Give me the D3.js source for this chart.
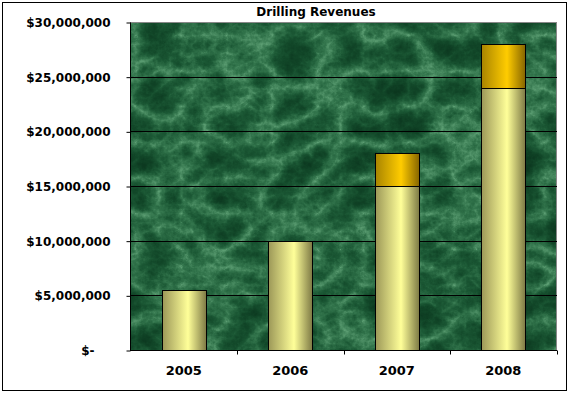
<!DOCTYPE html>
<html>
<head>
<meta charset="utf-8">
<script src="https://cdn.jsdelivr.net/npm/d3@7"></script>
<style>
  body { margin: 0; background: #fff; }
  svg text { font-family: Tahoma, "DejaVu Sans", sans-serif; font-weight: bold; fill: #000; }
</style>
</head>
<body>
<div id="chart"></div>
<script>
// Chart data
const years = ["2005", "2006", "2007", "2008"];
const baseRevenue = [5500000, 10000000, 15000000, 24000000];
const extraRevenue = [0, 0, 3000000, 4000000];
const yTicks = [0, 5000000, 10000000, 15000000, 20000000, 25000000, 30000000];

const width = 572, height = 394;
const margin = { top: 22, right: 15, bottom: 44, left: 130 };

const svg = d3.select("#chart").append("svg")
    .attr("width", width)
    .attr("height", height);

// outer frame
svg.append("rect")
    .attr("x", 2.5).attr("y", 2.5)
    .attr("width", 564).attr("height", 388)
    .attr("fill", "#fff")
    .attr("stroke", "#000")
    .attr("stroke-width", 1);

const defs = svg.append("defs");

// green marble texture: veins + a little grain
const marble = defs.append("filter")
    .attr("id", "marble")
    .attr("color-interpolation-filters", "sRGB")
    .attr("x", 0).attr("y", 0).attr("width", 1).attr("height", 1);
const toGray = "1 0 0 0 0  1 0 0 0 0  1 0 0 0 0  0 0 0 0 1";
marble.append("feTurbulence")
    .attr("type", "turbulence")
    .attr("baseFrequency", "0.022 0.028")
    .attr("numOctaves", 6)
    .attr("seed", 11)
    .attr("result", "veinsRaw");
marble.append("feColorMatrix")
    .attr("in", "veinsRaw").attr("type", "matrix").attr("values", toGray)
    .attr("result", "veins");
marble.append("feTurbulence")
    .attr("type", "fractalNoise")
    .attr("baseFrequency", "0.3")
    .attr("numOctaves", 2)
    .attr("seed", 3)
    .attr("result", "grainRaw");
marble.append("feColorMatrix")
    .attr("in", "grainRaw").attr("type", "matrix").attr("values", toGray)
    .attr("result", "grain");
marble.append("feComposite")
    .attr("in", "veins").attr("in2", "grain")
    .attr("operator", "arithmetic")
    .attr("k1", 0).attr("k2", 1).attr("k3", 0.2).attr("k4", -0.1)
    .attr("result", "gray");
const ct = marble.append("feComponentTransfer").attr("in", "gray");
ct.append("feFuncR").attr("type", "table").attr("tableValues", "0.36 0.2 0.11 0.07 0.05 0.04");
ct.append("feFuncG").attr("type", "table").attr("tableValues", "0.62 0.46 0.35 0.28 0.23 0.2");
ct.append("feFuncB").attr("type", "table").attr("tableValues", "0.45 0.3 0.21 0.16 0.13 0.11");

function barGradient(id, edgeL, mid, edgeR) {
    const g = defs.append("linearGradient").attr("id", id)
        .attr("x1", "0%").attr("x2", "100%").attr("y1", "0%").attr("y2", "0%");
    g.append("stop").attr("offset", "0%").attr("stop-color", edgeL);
    g.append("stop").attr("offset", "58%").attr("stop-color", mid);
    g.append("stop").attr("offset", "100%").attr("stop-color", edgeR);
}
barGradient("gradBase", "#9c9858", "#ffff99", "#7c7844");
barGradient("gradExtra", "#a88400", "#ffcc00", "#856400");

const x = d3.scaleBand()
    .domain(years)
    .range([margin.left, width - margin.right])
    .paddingInner(0.59)
    .paddingOuter(0.3);

const y = d3.scaleLinear()
    .domain([0, 30000000])
    .range([height - margin.bottom, margin.top]);

const plotW = width - margin.right - margin.left;
const plotH = y(0) - y(30000000);

// plot background
svg.append("rect")
    .attr("x", margin.left).attr("y", margin.top)
    .attr("width", plotW).attr("height", plotH)
    .attr("filter", "url(#marble)");
svg.append("rect")
    .attr("x", margin.left + 0.5).attr("y", margin.top + 0.5)
    .attr("width", plotW - 1).attr("height", plotH)
    .attr("fill", "none")
    .attr("stroke", "#888")
    .attr("stroke-width", 1);

// gridlines
svg.append("g")
    .selectAll("line")
    .data(yTicks.filter(d => d > 0 && d < 30000000))
    .join("line")
    .attr("x1", margin.left).attr("x2", width - margin.right)
    .attr("y1", d => Math.round(y(d)) + 0.5)
    .attr("y2", d => Math.round(y(d)) + 0.5)
    .attr("stroke", "#000");

// stacked bars
const stacked = years.map((yr, i) => ({ year: yr, base: baseRevenue[i], extra: extraRevenue[i] }));

svg.append("g").selectAll("rect")
    .data(stacked)
    .join("rect")
    .attr("x", d => Math.round(x(d.year)) + 0.5)
    .attr("y", d => Math.round(y(d.base)) + 0.5)
    .attr("width", Math.round(x.bandwidth()))
    .attr("height", d => Math.round(y(0)) - Math.round(y(d.base)))
    .attr("fill", "url(#gradBase)")
    .attr("stroke", "#000");

svg.append("g").selectAll("rect")
    .data(stacked.filter(d => d.extra > 0))
    .join("rect")
    .attr("x", d => Math.round(x(d.year)) + 0.5)
    .attr("y", d => Math.round(y(d.base + d.extra)) + 0.5)
    .attr("width", Math.round(x.bandwidth()))
    .attr("height", d => Math.round(y(d.base)) - Math.round(y(d.base + d.extra)))
    .attr("fill", "url(#gradExtra)")
    .attr("stroke", "#000");

// y axis
const fmt = d3.format("$,");
const yAxis = svg.append("g")
    .attr("transform", `translate(${margin.left + 0.5},0.5)`)
    .call(d3.axisLeft(y).tickValues(yTicks).tickSize(4).tickPadding(16)
        .tickFormat(d => d === 0 ? "$-" : fmt(d)));
yAxis.select(".domain").attr("stroke", "#000").attr("d", `M0,${margin.top}V${y(0)}`);
yAxis.selectAll("text").style("font-size", "12px");
yAxis.selectAll(".tick").filter(d => d === 0).select("text").attr("dx", -16);

// x axis
const xAxis = svg.append("g")
    .attr("transform", `translate(0,${Math.round(y(0)) + 0.5})`);
xAxis.append("line")
    .attr("x1", margin.left).attr("x2", width - margin.right)
    .attr("stroke", "#000");
const boundaries = years.map((d, i) => margin.left + plotW * (i + 1) / years.length);
xAxis.selectAll(".xtick")
    .data(boundaries)
    .join("line")
    .attr("class", "xtick")
    .attr("x1", d => Math.round(d) + 0.5).attr("x2", d => Math.round(d) + 0.5)
    .attr("y1", 0).attr("y2", 4)
    .attr("stroke", "#000");
xAxis.selectAll(".xlabel")
    .data(years)
    .join("text")
    .attr("class", "xlabel")
    .attr("x", d => x(d) + x.bandwidth() / 2)
    .attr("y", 24)
    .attr("text-anchor", "middle")
    .style("font-size", "13px")
    .text(d => d);

// title
svg.append("text")
    .attr("x", 316)
    .attr("y", 16)
    .attr("text-anchor", "middle")
    .style("font-size", "12px")
    .text("Drilling Revenues");
</script>
</body>
</html>
